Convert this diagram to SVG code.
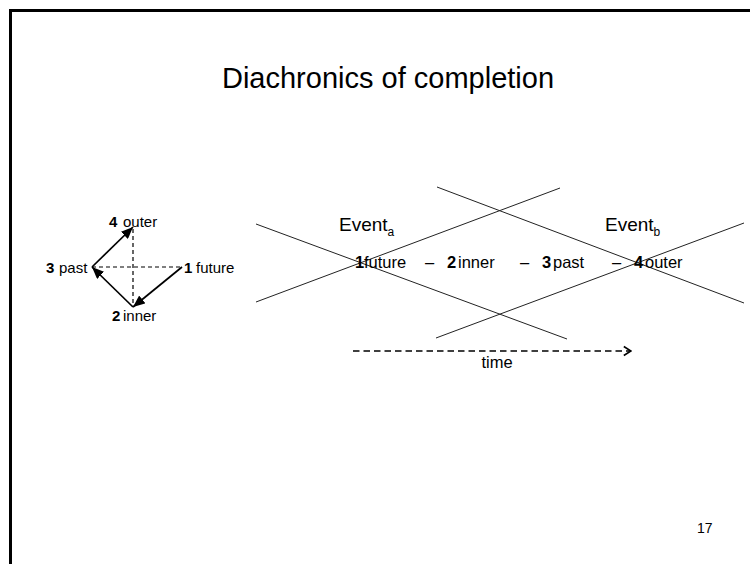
<svg xmlns="http://www.w3.org/2000/svg" width="750" height="564" viewBox="0 0 750 564">
<defs>
<marker id="tri" viewBox="0 0 12 10" refX="12" refY="5" markerWidth="12" markerHeight="10" markerUnits="userSpaceOnUse" orient="auto">
<path d="M0,0 L12,5 L0,10 Z" fill="#000"/>
</marker>
<marker id="chev" viewBox="0 0 10 12" refX="9" refY="6" markerWidth="9" markerHeight="12" markerUnits="userSpaceOnUse" orient="auto">
<path d="M1,1 L9,6 L1,11" fill="none" stroke="#000" stroke-width="1.8"/>
</marker>
<style>
text{font-family:"Liberation Sans",Arial,sans-serif;fill:#000}
.title{font-size:29px}
.ev{font-size:19px}
.sub{font-size:12px}
.row{font-size:16.5px}
.lab{font-size:15px}
.b{font-weight:bold}
.x{stroke:#222;stroke-width:1;fill:none}
.arr{stroke:#000;stroke-width:1.7;fill:none;marker-end:url(#tri)}
.dsh{stroke:#000;stroke-width:1.2;fill:none;stroke-dasharray:4 3}
</style>
</defs>
<rect width="750" height="564" fill="#fff"/>
<path d="M10.5,564 V10.5 H750" fill="none" stroke="#000" stroke-width="3"/>
<text class="title" x="388" y="88" text-anchor="middle">Diachronics of completion</text>
<text x="697" y="533" style="font-size:14px">17</text>

<g id="connectors">
<line class="x" x1="256" y1="224" x2="567" y2="339"/>
<line class="x" x1="256" y1="302" x2="560" y2="188"/>
<line class="x" x1="437" y1="187" x2="744" y2="303"/>
<line class="x" x1="436" y1="338" x2="744" y2="223"/>
<line class="dsh" x1="92" y1="267" x2="182" y2="267"/>
<line class="dsh" x1="133" y1="229" x2="133" y2="307"/>
<line class="arr" x1="182" y1="267" x2="133" y2="307"/>
<line class="arr" x1="133" y1="307" x2="92" y2="267"/>
<line class="arr" x1="92" y1="267" x2="133" y2="227"/>
<line x1="353" y1="351" x2="631" y2="351" stroke="#000" stroke-width="1.4" stroke-dasharray="6.5 4" marker-end="url(#chev)"/>
</g>

<g id="n-outer"><text class="lab" y="227"><tspan class="b" x="109">4</tspan><tspan x="123">outer</tspan></text></g>
<g id="n-past"><text class="lab" y="273"><tspan class="b" x="46">3</tspan><tspan x="59">past</tspan></text></g>
<g id="n-future"><text class="lab" y="273"><tspan class="b" x="184">1</tspan><tspan x="196">future</tspan></text></g>
<g id="n-inner"><text class="lab" y="321"><tspan class="b" x="112">2</tspan><tspan x="123">inner</tspan></text></g>

<g id="event-a"><text class="ev" x="339" y="231">Event<tspan class="sub" dy="5">a</tspan></text></g>
<g id="event-b"><text class="ev" x="605" y="231">Event<tspan class="sub" dy="5">b</tspan></text></g>

<g id="row">
<text class="row" y="268"><tspan class="b" x="355">1</tspan><tspan x="364">future</tspan><tspan x="425">–</tspan><tspan class="b" x="447">2</tspan><tspan x="458">inner</tspan><tspan x="520">–</tspan><tspan class="b" x="542">3</tspan><tspan x="553">past</tspan><tspan x="612">–</tspan><tspan class="b" x="634">4</tspan><tspan x="645">outer</tspan></text>
</g>

<g id="time"><text class="row" x="497" y="368" text-anchor="middle">time</text></g>
</svg>
